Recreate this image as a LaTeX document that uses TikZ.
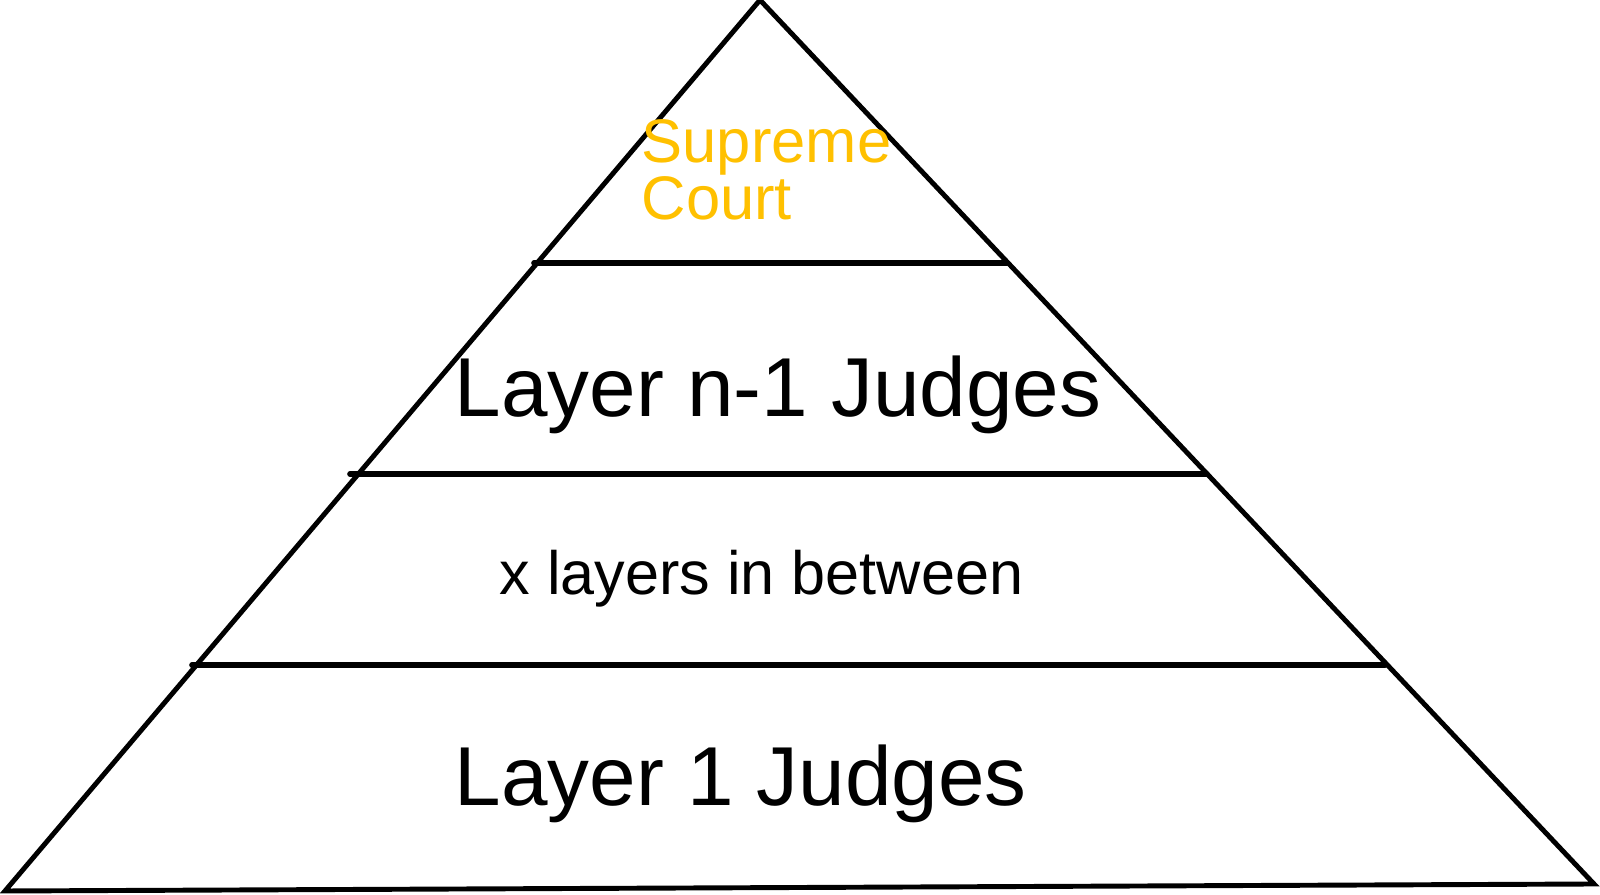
\documentclass[tikz,border=0pt]{standalone}
\usepackage{fontspec}
\setmainfont{Liberation Sans}
\definecolor{courtgold}{HTML}{FFC000}

\begin{document}
\begin{tikzpicture}[
  x=0.1mm, y=-0.1mm,
  outline/.style={draw=black, line width=1.4pt, line cap=round},
  divider/.style={draw=black, line width=1.6pt, line cap=round},
  judges/.style={anchor=base west, inner sep=0pt,
                 font=\fontsize{23.8}{26}\selectfont},
  between/.style={anchor=base west, inner sep=0pt,
                  font=\fontsize{17.4}{20}\selectfont},
  court/.style={anchor=base west, inner sep=0pt, align=left,
                text=courtgold, font=\fontsize{17.5}{16.4}\selectfont}
]
\useasboundingbox (0,0) rectangle (1600,895);

% pyramid outline
\coordinate (apex) at (760,0);
\coordinate (BL)   at (5,891);
\coordinate (BR)   at (1594,884);
\draw[outline] (apex) -- (BL) -- (BR) -- cycle;

% layer dividers
\coordinate (L1) at (534,263);  \coordinate (R1) at (1007,263);
\coordinate (L2) at (350,474);  \coordinate (R2) at (1207,474);
\coordinate (L3) at (192,665);  \coordinate (R3) at (1385,665);

\foreach \a/\b in {L1/R1, L2/R2, L3/R3}
  \draw[divider] (\a) -- (\b);

% base anchor sits on the last line
\node[court]   (supreme) at (641,220) {Supreme\\Court};
\node[judges]  (upper)   at (454,417) {Layer n-1 Judges};
\node[between] (middle)  at (499,595) {x layers in between};
\node[judges]  (lower)   at (454,806) {Layer 1 Judges};

\end{tikzpicture}
\end{document}
